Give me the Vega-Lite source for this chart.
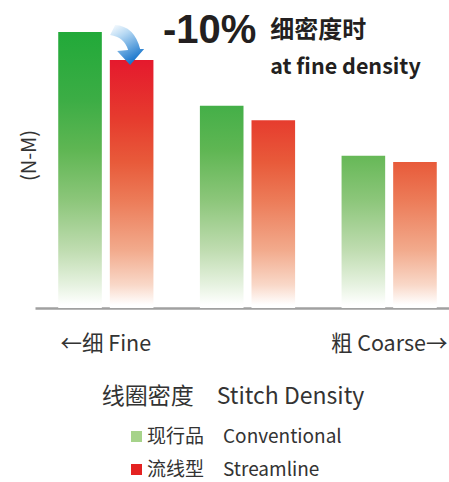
{
  "$schema": "https://vega.github.io/schema/vega-lite/v6.json",
  "width": 414,
  "height": 288,
  "autosize": {"type": "none"},
  "padding": {"left": 35, "top": 20, "right": 0, "bottom": 174},
  "background": "white",
  "config": {"font": "Noto Sans CJK SC", "view": {"stroke": null}},
  "data": {"values": [
    {"density": "Fine", "type": "现行品　Conventional", "value": 100},
    {"density": "Fine", "type": "流线型　Streamline", "value": 89.9},
    {"density": "Medium", "type": "现行品　Conventional", "value": 73.3},
    {"density": "Medium", "type": "流线型　Streamline", "value": 68},
    {"density": "Coarse", "type": "现行品　Conventional", "value": 55.2},
    {"density": "Coarse", "type": "流线型　Streamline", "value": 52.9}
  ]},
  "encoding": {
    "x": {
      "field": "density", "type": "nominal", "sort": ["Fine", "Medium", "Coarse"],
      "scale": {"range": [0, 425], "paddingInner": 0.328, "paddingOuter": 0.164},
      "axis": {
        "title": "线圈密度　Stitch Density",
        "domain": true, "domainColor": "#a0a0a0", "domainWidth": 2.5,
        "ticks": false, "grid": false,
        "labelExpr": "datum.value == 'Fine' ? '←细 Fine' : (datum.value == 'Coarse' ? '粗 Coarse→' : '')",
        "labelFontSize": 21.5, "labelColor": "#333333", "labelPadding": 25, "labelAngle": 0,
        "labelOverlap": false, "labelBound": false, "labelFlush": false, "labelLimit": 0,
        "titleFontSize": 23, "titleFontWeight": "normal", "titleColor": "#333333",
        "titleX": 197.5, "titleY": 95, "titleBaseline": "alphabetic", "titleAlign": "center"
      }
    },
    "xOffset": {
      "field": "type", "type": "nominal", "sort": ["现行品　Conventional", "流线型　Streamline"],
      "scale": {"paddingInner": 0.155, "paddingOuter": 0}
    },
    "y": {
      "field": "value", "type": "quantitative",
      "scale": {"domain": [0, 104.35], "nice": false},
      "axis": {
        "title": "(N-M)", "domain": false, "ticks": false, "labels": false, "grid": false,
        "titleFontSize": 20, "titleFontWeight": "normal", "titleColor": "#333333",
        "titleX": -6, "titleY": 135, "titleBaseline": "middle", "titleAngle": -90, "titleAlign": "center"
      }
    }
  },
  "layer": [
    {
      "transform": [{"filter": "datum.density == 'Fine' && datum.type == '现行品　Conventional'"}],
      "mark": {"type": "bar", "color": {"gradient": "linear", "x1": 0, "y1": 0, "x2": 0, "y2": 1, "stops": [
        {"offset": 0, "color": "#21a939"}, {"offset": 0.246, "color": "#3cad45"}, {"offset": 0.428, "color": "#5fb653"},
        {"offset": 0.609, "color": "#8cc67a"}, {"offset": 0.79, "color": "#bfdcb0"}, {"offset": 0.917, "color": "#e6f2e0"},
        {"offset": 0.989, "color": "#ffffff"}, {"offset": 1, "color": "#ffffff"}]}}
    },
    {
      "transform": [{"filter": "datum.density == 'Medium' && datum.type == '现行品　Conventional'"}],
      "mark": {"type": "bar", "color": {"gradient": "linear", "x1": 0, "y1": 0, "x2": 0, "y2": 1, "stops": [
        {"offset": 0, "color": "#44af48"}, {"offset": 0.219, "color": "#5fb653"}, {"offset": 0.466, "color": "#8cc67a"},
        {"offset": 0.713, "color": "#bfdcb0"}, {"offset": 0.886, "color": "#e6f2e0"},
        {"offset": 0.985, "color": "#ffffff"}, {"offset": 1, "color": "#ffffff"}]}}
    },
    {
      "transform": [{"filter": "datum.density == 'Coarse' && datum.type == '现行品　Conventional'"}],
      "mark": {"type": "bar", "color": {"gradient": "linear", "x1": 0, "y1": 0, "x2": 0, "y2": 1, "stops": [
        {"offset": 0, "color": "#66b857"}, {"offset": 0.291, "color": "#8cc67a"},
        {"offset": 0.619, "color": "#bfdcb0"}, {"offset": 0.849, "color": "#e6f2e0"},
        {"offset": 0.98, "color": "#ffffff"}, {"offset": 1, "color": "#ffffff"}]}}
    },
    {
      "transform": [{"filter": "datum.density == 'Fine' && datum.type == '流线型　Streamline'"}],
      "mark": {"type": "bar", "color": {"gradient": "linear", "x1": 0, "y1": 0, "x2": 0, "y2": 1, "stops": [
        {"offset": 0, "color": "#e5192d"}, {"offset": 0.242, "color": "#e63c2e"}, {"offset": 0.411, "color": "#e85a3a"},
        {"offset": 0.565, "color": "#ec7b58"}, {"offset": 0.766, "color": "#f2aa8c"}, {"offset": 0.907, "color": "#f9d8c8"},
        {"offset": 0.988, "color": "#ffffff"}, {"offset": 1, "color": "#ffffff"}]}}
    },
    {
      "transform": [{"filter": "datum.density == 'Medium' && datum.type == '流线型　Streamline'"}],
      "mark": {"type": "bar", "color": {"gradient": "linear", "x1": 0, "y1": 0, "x2": 0, "y2": 1, "stops": [
        {"offset": 0, "color": "#e63c2e"}, {"offset": 0.222, "color": "#e85a3a"}, {"offset": 0.425, "color": "#ec7b58"},
        {"offset": 0.691, "color": "#f2aa8c"}, {"offset": 0.877, "color": "#f9d8c8"},
        {"offset": 0.984, "color": "#ffffff"}, {"offset": 1, "color": "#ffffff"}]}}
    },
    {
      "transform": [{"filter": "datum.density == 'Coarse' && datum.type == '流线型　Streamline'"}],
      "mark": {"type": "bar", "color": {"gradient": "linear", "x1": 0, "y1": 0, "x2": 0, "y2": 1, "stops": [
        {"offset": 0, "color": "#e85a3a"}, {"offset": 0.26, "color": "#ec7b58"},
        {"offset": 0.603, "color": "#f2aa8c"}, {"offset": 0.842, "color": "#f9d8c8"},
        {"offset": 0.979, "color": "#ffffff"}, {"offset": 1, "color": "#ffffff"}]}}
    },
    {
      "transform": [{"filter": "datum.density == 'Fine' && datum.type == '流线型　Streamline'"}],
      "mark": {
        "type": "point", "filled": true, "opacity": 1, "strokeWidth": 0, "size": 1600,
        "shape": "M-0.825,-1.75 Q0.125,-1.7 0.425,-0.55 L0.625,-0.55 L-0.075,0.25 L-0.725,-0.45 L-0.175,-0.5 Q-0.375,-1.15 -1.075,-1.25 Z",
        "color": {"gradient": "linear", "x1": 0, "y1": 0, "x2": 0.5, "y2": 1, "stops": [
          {"offset": 0, "color": "#ffffff"}, {"offset": 0.35, "color": "#b5d8f3"}, {"offset": 1, "color": "#1876cc"}]}
      }
    },
    {
      "transform": [{"filter": "datum.density == 'Fine' && datum.type == '流线型　Streamline'"}],
      "mark": {"type": "text", "text": "-10%", "font": "Liberation Sans", "fontSize": 40, "fontWeight": "bold", "color": "#231f20",
        "align": "center", "baseline": "alphabetic", "dx": 78, "dy": -17}
    },
    {
      "transform": [{"filter": "datum.density == 'Fine' && datum.type == '流线型　Streamline'"}],
      "mark": {"type": "text", "text": "细密度时", "fontSize": 24, "fontWeight": "bold", "color": "#231f20",
        "align": "left", "baseline": "alphabetic", "dx": 138.5, "dy": -21.5}
    },
    {
      "transform": [{"filter": "datum.density == 'Fine' && datum.type == '流线型　Streamline'"}],
      "mark": {"type": "text", "text": "at fine density", "fontSize": 21.5, "fontWeight": "bold", "color": "#231f20",
        "align": "left", "baseline": "alphabetic", "dx": 138.5, "dy": 14}
    },
    {
      "mark": {"type": "point", "shape": "square", "filled": true, "opacity": 0},
      "encoding": {
        "color": {
          "field": "type", "type": "nominal", "sort": ["现行品　Conventional", "流线型　Streamline"],
          "scale": {"range": ["#a6d38a", "#e42221"]},
          "legend": {
            "orient": "none", "legendX": 92, "legendY": 407, "title": null,
            "symbolType": "square", "symbolSize": 121, "symbolOpacity": 1, "symbolStrokeWidth": 0,
            "labelFontSize": 19, "labelColor": "#333333", "labelOffset": 1, "labelLimit": 0,
            "rowPadding": 13, "padding": 0
          }
        }
      }
    }
  ]
}
